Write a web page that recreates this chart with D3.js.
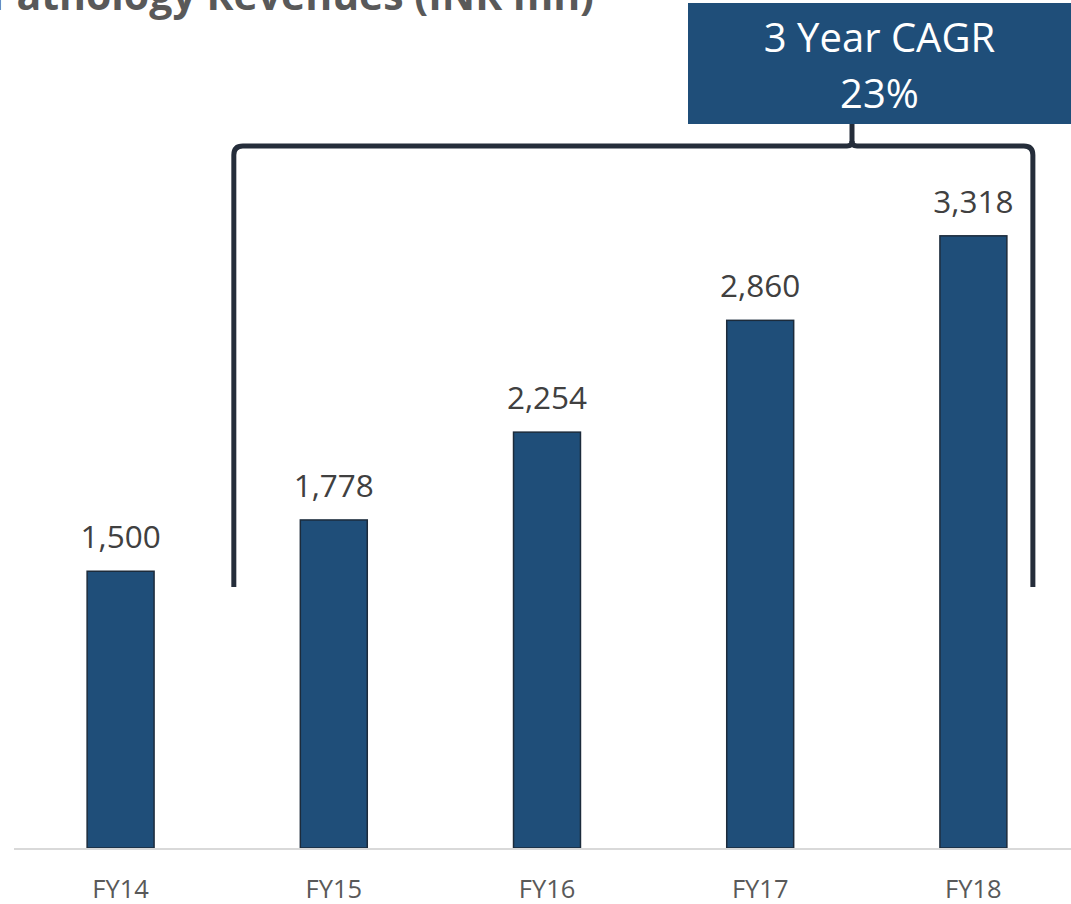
<!DOCTYPE html>
<html>
<head>
<meta charset="utf-8">
<script src="https://cdn.jsdelivr.net/npm/d3@7"></script>
<style>
  html, body { margin: 0; padding: 0; background: #fff; }
  svg { display: block; }
</style>
</head>
<body>
<svg id="chart" width="1071" height="904"></svg>
<script>
const titleText = "Pathology Revenues (INR mn)";
const categories = ["FY14", "FY15", "FY16", "FY17", "FY18"];
const revenues = [1500, 1778, 2254, 2860, 3318];
const cagrLines = ["3 Year CAGR", "23%"];
const cagrFrom = "FY15";
const cagrTo = "FY18";

const svg = d3.select("#chart");
const W = 1071, H = 904;
const font = "'Open Sans', 'Liberation Sans', sans-serif";

const x = d3.scaleBand().domain(categories).range([14, 1080])
  .paddingInner(0.686).paddingOuter(0.343);
const y = d3.scaleLinear().domain([0, 4000]).range([848, 110]);

// title (clipped by top/left edge like the reference)
svg.append("text")
  .attr("x", 594).attr("y", 9.5)
  .attr("text-anchor", "end")
  .attr("font-family", font).attr("font-weight", 700)
  .attr("font-size", 41).attr("fill", "#595959")
  .text(titleText);

// bars
svg.append("g").selectAll("rect").data(categories).join("rect")
  .attr("x", d => x(d)).attr("width", x.bandwidth())
  .attr("y", (d, i) => y(revenues[i]))
  .attr("height", (d, i) => y(0) - y(revenues[i]))
  .attr("fill", "#1f4e79").attr("stroke", "#1c2b3b").attr("stroke-width", 1.5);

// value labels
svg.append("g").selectAll("text").data(categories).join("text")
  .attr("x", d => x(d) + x.bandwidth() / 2)
  .attr("y", (d, i) => y(revenues[i]) - 23)
  .attr("text-anchor", "middle")
  .attr("font-family", font).attr("font-size", 31.5).attr("fill", "#404040")
  .text((d, i) => d3.format(",")(revenues[i]));

// x axis
const xAxis = d3.axisBottom(x).tickSize(0).tickPadding(0);
const gx = svg.append("g").attr("transform", `translate(0,${y(0)})`).call(xAxis);
gx.select(".domain").remove();
gx.append("line").attr("x1", 14).attr("x2", W).attr("y1", 1).attr("y2", 1)
  .attr("stroke", "#d9d9d9").attr("stroke-width", 2);
gx.selectAll(".tick text")
  .attr("y", 49.5).attr("dy", 0)
  .attr("font-family", font).attr("font-size", 25.5).attr("fill", "#595959");

// bracket
const bx0 = x(cagrFrom) - 66.5;
const bx1 = x(cagrTo) + x.bandwidth() + 26;
const bTop = 146, bBot = 587, r = 9;
const boxX0 = 688, boxX1 = 1071, boxY0 = 3, boxY1 = 124;
const tickX = 852;
const p = d3.path();
p.moveTo(bx0, bBot);
p.lineTo(bx0, bTop + r);
p.quadraticCurveTo(bx0, bTop, bx0 + r, bTop);
p.lineTo(tickX - 5, bTop);
p.quadraticCurveTo(tickX, bTop, tickX, bTop - 5);
p.quadraticCurveTo(tickX, bTop, tickX + 5, bTop);
p.lineTo(bx1 - r, bTop);
p.quadraticCurveTo(bx1, bTop, bx1, bTop + r);
p.lineTo(bx1, bBot);
svg.append("path").attr("d", p.toString())
  .attr("fill", "none").attr("stroke", "#252d3a").attr("stroke-width", 5);
svg.append("line").attr("x1", tickX).attr("x2", tickX)
  .attr("y1", boxY1).attr("y2", bTop - 4)
  .attr("stroke", "#252d3a").attr("stroke-width", 5);

// CAGR box
svg.append("rect").attr("x", boxX0).attr("y", boxY0)
  .attr("width", boxX1 - boxX0).attr("height", boxY1 - boxY0)
  .attr("fill", "#1f4e79");
svg.append("g").selectAll("text").data(cagrLines).join("text")
  .attr("x", (boxX0 + boxX1) / 2)
  .attr("y", (d, i) => 52 + i * 56)
  .attr("text-anchor", "middle")
  .attr("font-family", font).attr("font-size", 40).attr("fill", "#ffffff")
  .text(d => d);
</script>
</body>
</html>
